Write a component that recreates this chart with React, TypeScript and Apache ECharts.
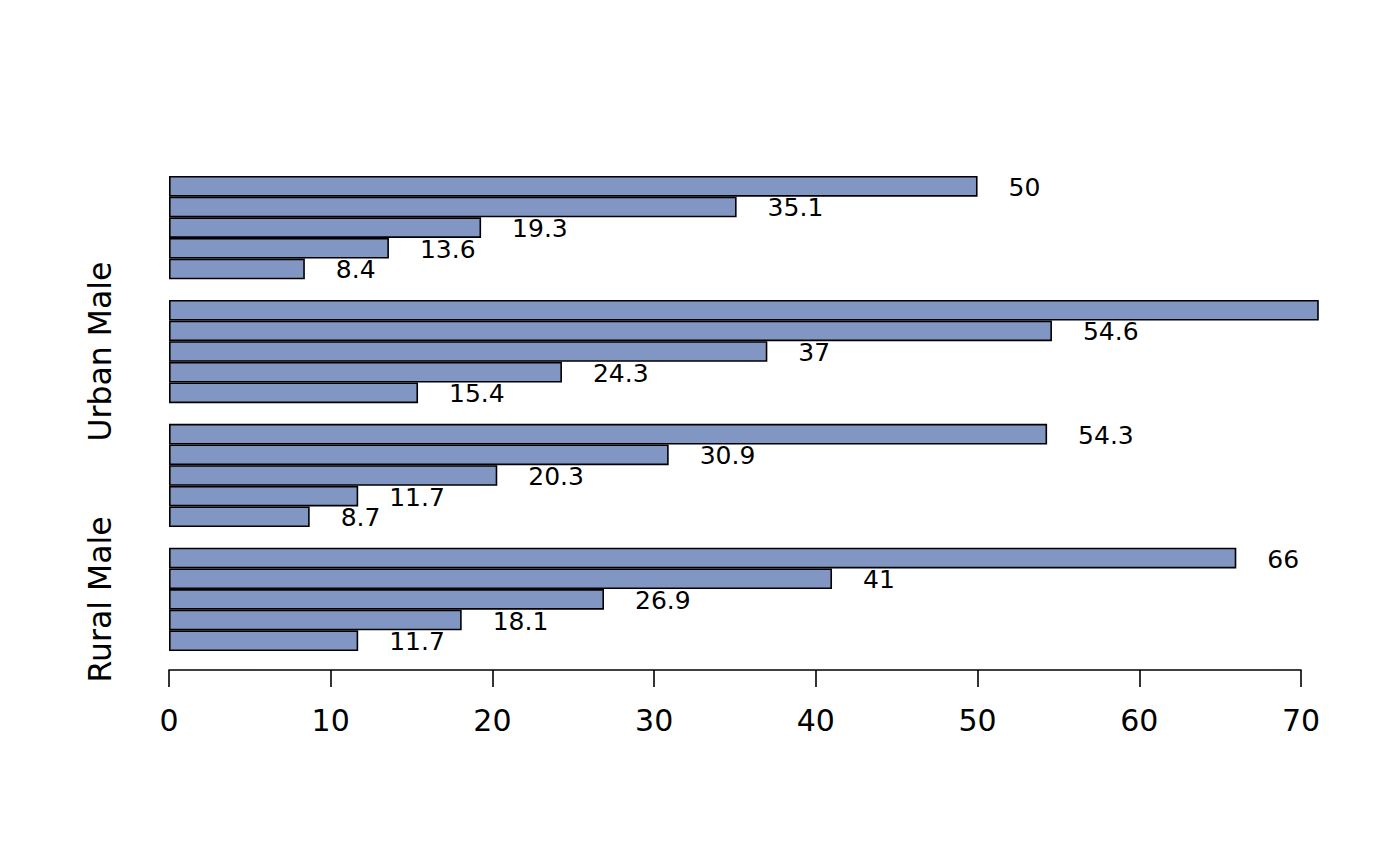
import React, { useEffect, useRef } from "react";
import * as echarts from "echarts";

const groups = ["Rural Male", "Rural Female", "Urban Male", "Urban Female"];
const shownGroupLabels = ["Rural Male", "Urban Male"];
const ruralMale = [11.7, 18.1, 26.9, 41.0, 66.0];
const ruralFemale = [8.7, 11.7, 20.3, 30.9, 54.3];
const urbanMale = [15.4, 24.3, 37.0, 54.6, 71.1];
const urbanFemale = [8.4, 13.6, 19.3, 35.1, 50.0];
const xTicks = [0, 10, 20, 30, 40, 50, 60, 70];

const groupValues = [ruralMale, ruralFemale, urbanMale, urbanFemale];

export default function App() {
  const ref = useRef<HTMLDivElement>(null);
  useEffect(() => {
    if (!ref.current) return;
    const chart = echarts.init(ref.current, undefined, { renderer: "svg" });
    const xMax = xTicks[xTicks.length - 1];
    const cats: string[] = [];
    const data: any[] = [];
    groupValues.forEach((vals, gi) => {
      vals.forEach((v, i) => {
        cats.push(i === 2 ? groups[gi] : groups[gi] + "_" + i);
        data.push({ value: v, label: { show: v <= xMax } });
      });
      if (gi < groupValues.length - 1) {
        cats.push("gap" + gi);
        data.push("-");
      }
    });
    chart.setOption({
      animation: false,
      grid: { left: 169, right: 99, top: 176, bottom: 215 },
      xAxis: {
        type: "value",
        min: 0,
        max: xMax,
        interval: 10,
        offset: 19,
        splitLine: { show: false },
        axisLine: { show: true, lineStyle: { color: "#000", width: 1.6 } },
        axisTick: { show: true, length: 17, lineStyle: { color: "#000", width: 1.6 } },
        axisLabel: {
          margin: 35,
          color: "#000",
          fontSize: 30,
          fontFamily: "DejaVu Sans",
        },
      },
      yAxis: {
        type: "category",
        data: cats,
        axisLine: { show: false },
        axisTick: { show: false },
        splitLine: { show: false },
        axisLabel: {
          interval: 0,
          rotate: 90,
          margin: 53,
          color: "#000",
          fontSize: 31.5,
          fontFamily: "DejaVu Sans",
          formatter: (v: string) => (shownGroupLabels.includes(v) ? v : ""),
        },
      },
      series: [
        {
          type: "bar",
          data,
          barWidth: "100%",
          clip: false,
          itemStyle: { color: "#8196C2", borderColor: "#000", borderWidth: 1.6 },
          label: {
            show: true,
            position: "right",
            distance: 31,
            color: "#000",
            fontSize: 25,
            fontFamily: "DejaVu Sans",
            offset: [0, 1],
            formatter: (p: any) => String(p.value),
          },
        },
      ],
    });
    return () => chart.dispose();
  }, []);
  return <div ref={ref} style={{ width: 1400, height: 866, position: "absolute", left: 0, top: 0, background: "#fff" }} />;
}
